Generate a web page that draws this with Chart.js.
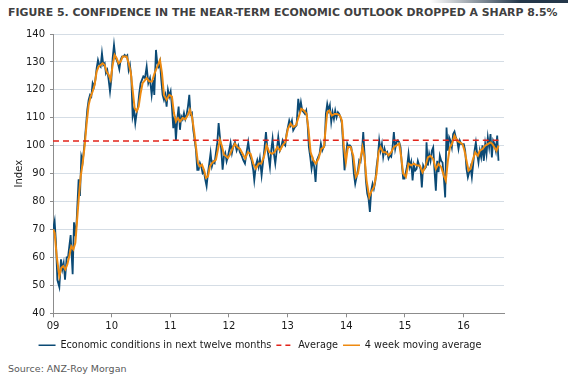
<!DOCTYPE html>
<html><head><meta charset="utf-8">
<script src="https://cdn.jsdelivr.net/npm/chart.js@4.4.1/dist/chart.umd.min.js"></script>
<style>
html,body{margin:0;padding:0;background:#fff;width:568px;height:375px;overflow:hidden;position:relative;font-family:"DejaVu Sans",Verdana,sans-serif;}
#topbar{position:absolute;left:430px;top:0;width:138px;height:3px;background:linear-gradient(to right,rgba(36,55,74,0),#24374a 65%);}
#title{position:absolute;left:8px;top:6px;font-weight:bold;font-size:11px;color:#404040;white-space:nowrap;line-height:13px;}
#source{position:absolute;left:8px;top:363px;font-size:9.5px;color:#595959;white-space:nowrap;line-height:12px;}
#chart{position:absolute;left:0;top:0;}
</style></head><body>
<div id="topbar"></div>
<div id="title"><span id="titletext">FIGURE 5. CONFIDENCE IN THE NEAR-TERM ECONOMIC OUTLOOK DROPPED A SHARP 8.5%</span></div>
<canvas id="chart" width="520" height="360"></canvas>
<div id="source">Source: ANZ-Roy Morgan</div>
<script>
// ---- data ----
const seriesLabels = ['Economic conditions in next twelve months', 'Average', '4 week moving average'];
const xTickYears = [2009, 2010, 2011, 2012, 2013, 2014, 2015, 2016];
const xTickLabels = ['09', '10', '11', '12', '13', '14', '15', '16'];

const econDates = [2009.000,2009.028,2009.051,2009.074,2009.108,2009.136,2009.159,2009.182,2009.205,2009.233,2009.256,2009.278,2009.301,2009.335,2009.358,2009.381,2009.403,2009.437,2009.460,2009.483,2009.506,2009.534,2009.557,2009.585,2009.608,2009.631,2009.653,2009.676,2009.699,2009.722,2009.744,2009.767,2009.790,2009.812,2009.835,2009.858,2009.881,2009.903,2009.926,2009.949,2009.972,2009.994,2010.017,2010.040,2010.062,2010.085,2010.108,2010.131,2010.153,2010.176,2010.199,2010.222,2010.244,2010.267,2010.290,2010.312,2010.335,2010.358,2010.381,2010.403,2010.426,2010.449,2010.471,2010.494,2010.517,2010.540,2010.568,2010.597,2010.625,2010.653,2010.682,2010.710,2010.727,2010.756,2010.778,2010.801,2010.824,2010.846,2010.869,2010.892,2010.915,2010.937,2010.960,2010.983,2011.006,2011.028,2011.051,2011.074,2011.096,2011.119,2011.142,2011.165,2011.187,2011.210,2011.233,2011.256,2011.278,2011.301,2011.324,2011.346,2011.369,2011.392,2011.415,2011.437,2011.460,2011.483,2011.506,2011.528,2011.551,2011.574,2011.596,2011.619,2011.642,2011.665,2011.687,2011.710,2011.733,2011.756,2011.778,2011.801,2011.824,2011.846,2011.869,2011.892,2011.915,2011.937,2011.960,2011.983,2012.006,2012.028,2012.051,2012.074,2012.102,2012.131,2012.159,2012.187,2012.216,2012.244,2012.273,2012.301,2012.329,2012.358,2012.386,2012.415,2012.432,2012.460,2012.483,2012.506,2012.528,2012.557,2012.585,2012.608,2012.631,2012.653,2012.676,2012.699,2012.721,2012.744,2012.767,2012.790,2012.812,2012.841,2012.869,2012.892,2012.915,2012.937,2012.960,2012.983,2013.006,2013.028,2013.051,2013.074,2013.096,2013.125,2013.153,2013.182,2013.204,2013.227,2013.250,2013.273,2013.295,2013.318,2013.341,2013.363,2013.386,2013.409,2013.432,2013.454,2013.477,2013.500,2013.523,2013.545,2013.568,2013.591,2013.613,2013.630,2013.653,2013.676,2013.699,2013.721,2013.744,2013.767,2013.790,2013.812,2013.835,2013.858,2013.880,2013.903,2013.926,2013.949,2013.971,2013.994,2014.017,2014.040,2014.062,2014.085,2014.108,2014.130,2014.153,2014.176,2014.199,2014.221,2014.244,2014.267,2014.290,2014.312,2014.335,2014.358,2014.380,2014.403,2014.426,2014.449,2014.471,2014.494,2014.517,2014.539,2014.562,2014.585,2014.608,2014.630,2014.653,2014.676,2014.699,2014.721,2014.744,2014.767,2014.790,2014.812,2014.835,2014.858,2014.880,2014.903,2014.926,2014.949,2014.971,2014.994,2015.017,2015.040,2015.062,2015.085,2015.108,2015.131,2015.153,2015.176,2015.199,2015.221,2015.244,2015.267,2015.289,2015.312,2015.335,2015.358,2015.369,2015.392,2015.414,2015.437,2015.460,2015.483,2015.505,2015.528,2015.551,2015.574,2015.596,2015.619,2015.642,2015.664,2015.687,2015.710,2015.733,2015.755,2015.778,2015.801,2015.823,2015.846,2015.869,2015.892,2015.914,2015.937,2015.960,2015.983,2016.005,2016.028,2016.051,2016.074,2016.096,2016.119,2016.142,2016.165,2016.187,2016.210,2016.233,2016.255,2016.278,2016.301,2016.323,2016.346,2016.369,2016.392,2016.414,2016.437,2016.460,2016.483,2016.505,2016.528,2016.551,2016.574,2016.596];
const econValues = [70,73,65.2,52,49.4,59.3,55.7,58,52,60,60,64,68,54,72.6,67.6,73,88,82,96.2,94.4,100,105.7,112.9,116.4,118.2,117.6,122.4,121.2,123.6,127.7,130.7,128.9,128.3,133.1,128.9,129.5,126,127.1,123.6,119.4,123.6,131.3,136.1,131.9,130.7,129.5,127.4,130.7,131.9,131.9,132.5,131.9,132.4,127.1,128.9,124.8,110.5,112.9,108.1,111.7,114,118.8,122.4,123.6,124.8,124.2,128.3,122.4,124.2,118.2,123.6,118.2,134.3,129.5,128.3,130.1,123.6,118.2,116.4,118.2,114,120,117.6,119.4,114,106.3,110.5,102.1,109.5,114,105.7,110.5,109.5,111.7,109.5,111.1,114,118.2,111.1,111.7,105.7,102.1,98.6,91.4,91.4,93.8,92.6,90.2,90.8,87.9,85.5,90.2,93.8,97.4,92.6,94.4,93.8,97.4,101,108.1,103.3,98.6,91.4,96.2,97.4,94.4,96.2,98.6,101,97.4,99.8,101.3,98.3,100.1,97.7,96.5,94.8,93.6,97.7,101.3,96.5,94.8,91.2,87.6,93,94.8,92.4,95.4,89.4,94.8,99.5,104.9,99.5,96,92.4,98.3,102.5,97.1,93.6,97.7,103.1,98.3,99.5,101.9,100.7,100.1,104.3,106.7,109,107.3,109,105.5,106.7,107.3,116.8,112.6,115.6,112.6,112,111.4,112.6,107.9,99.5,96,91.8,94.8,92.4,87,94.8,96,97.1,100.7,98.3,99.5,100,111.4,115,112.6,114.4,108.5,112,109.6,112.6,110.2,112,111.4,110.2,107.9,99.5,91.2,96,100.7,99.5,100.1,99.5,96,90,86.4,88.8,91.2,94.8,94.2,97.7,104.9,97.1,87.6,82.9,81.1,76.3,84,86.4,84.6,87,92.4,96,101.9,98.3,100.7,96,98.9,97.1,97.7,95.4,96.5,96,99.5,104.9,98.9,101.3,101.9,101.3,99.5,93,88.2,88.2,90.6,93,97.1,92.4,94.2,87.6,93,91.1,91.7,94.6,92.9,91.7,85.1,92.9,91.7,92.3,101.2,92.9,97,94.6,98.2,99.4,91.1,83.9,94.6,90.5,96.4,94.6,94,88.7,81.5,106.5,98.2,103,101.8,99.4,104.2,105.1,103,101.8,98.8,101.8,100.6,100.6,100.6,98.2,91.7,88.7,90.5,92.3,88.7,93.5,98.2,101.2,97,94,98.2,95.8,100.1,94.6,100.6,97,103,99.4,104.2,95.8,101.8,100.6,98.2,103.6,94.6];

const maDates = [2009.000,2009.028,2009.063,2009.108,2009.142,2009.176,2009.210,2009.244,2009.278,2009.312,2009.347,2009.381,2009.403,2009.437,2009.472,2009.506,2009.540,2009.574,2009.608,2009.642,2009.676,2009.710,2009.744,2009.778,2009.812,2009.847,2009.881,2009.915,2009.949,2009.983,2010.017,2010.051,2010.085,2010.119,2010.153,2010.188,2010.222,2010.256,2010.290,2010.324,2010.358,2010.392,2010.426,2010.460,2010.494,2010.528,2010.597,2010.642,2010.687,2010.733,2010.778,2010.824,2010.858,2010.892,2010.937,2010.983,2011.028,2011.062,2011.096,2011.131,2011.165,2011.210,2011.256,2011.301,2011.335,2011.369,2011.403,2011.437,2011.471,2011.506,2011.540,2011.574,2011.608,2011.642,2011.676,2011.710,2011.744,2011.778,2011.812,2011.846,2011.881,2011.915,2011.949,2011.983,2012.017,2012.051,2012.102,2012.142,2012.187,2012.233,2012.278,2012.324,2012.369,2012.415,2012.460,2012.506,2012.551,2012.596,2012.642,2012.687,2012.733,2012.778,2012.824,2012.869,2012.915,2012.960,2013.006,2013.051,2013.096,2013.142,2013.187,2013.233,2013.278,2013.324,2013.358,2013.392,2013.437,2013.483,2013.528,2013.574,2013.619,2013.676,2013.710,2013.755,2013.801,2013.846,2013.892,2013.926,2013.960,2013.994,2014.028,2014.074,2014.119,2014.164,2014.199,2014.233,2014.278,2014.312,2014.346,2014.392,2014.426,2014.471,2014.517,2014.551,2014.585,2014.630,2014.676,2014.721,2014.767,2014.812,2014.858,2014.903,2014.937,2014.971,2015.017,2015.062,2015.108,2015.153,2015.210,2015.255,2015.301,2015.346,2015.392,2015.437,2015.483,2015.528,2015.574,2015.619,2015.664,2015.698,2015.733,2015.767,2015.801,2015.846,2015.892,2015.937,2015.983,2016.017,2016.051,2016.085,2016.119,2016.153,2016.199,2016.244,2016.278,2016.323,2016.369,2016.414,2016.460,2016.494,2016.528,2016.562,2016.596];
const maValues = [70,68.8,60.5,53.3,56.3,56.9,55.7,57.5,60.5,64,62.9,65.2,71.2,80.7,89,93.8,100,108.1,114.6,117.6,119.4,121.8,126.5,128.3,128.9,129.5,128.9,126.5,125.4,123.6,128.9,132.5,131.3,129.5,130.1,131.9,131.9,131.9,129.5,126.5,120,113.5,112.3,114,118.8,122.4,124.2,123,123,126,128.3,130.7,126,118.2,116.4,118.2,117.6,111.7,108.7,109.9,108.7,109.9,109.5,111.1,112.9,110.5,105.7,99.8,93.8,92.6,93.2,91.4,88.5,89,92.6,93.8,94.4,95,98.6,102.1,99.8,96.8,96.2,95.6,96.8,98.6,100.7,99.5,98.9,97.1,95.4,97.7,97.1,93.6,91.8,93.6,93.6,96,100.1,97.7,97.1,97.7,99.5,98.3,100.1,101.3,106.1,107.9,106.7,107.3,110.2,113.2,112.6,111.4,105.5,97.7,94.8,93.6,95.4,98.9,99.5,112,112.6,110.8,111.4,111.4,110.8,109,99.5,94.2,99.5,99.5,96.5,88.8,90,94.2,99.5,96,87.6,81.7,83.5,85.2,90,97.7,99.5,97.7,97.7,96.5,97.7,99.5,100.1,100.7,96,90,88.8,93.6,93,93.6,92.9,92.9,90.5,92.3,95.8,96.4,95.2,91.7,93.5,92.3,89.3,87.5,94.6,99.4,100.6,103.6,101.8,101.2,100.6,98.2,94.6,91.1,91.7,94.6,97.6,96.4,98.2,98.8,100,100.6,101.2,100.6,99.4,98.2,100];

const avgDates = [2009.000, 2010.840, 2010.870, 2016.596];
const avgValues = [101.7, 101.7, 102.0, 102.0];

const yMin = 40, yMax = 140, yStep = 10;
const xMin = 2009, xMax = 2016.69;

// ---- build ----
const pts = (xs, ys) => xs.map((x, i) => ({x: x, y: ys[i]}));

// fit title width
(function(){
  const t = document.getElementById('titletext');
  const w = t.getBoundingClientRect().width;
  const target = 550;
  document.getElementById('title').style.fontSize = (11 * target / w).toFixed(2) + 'px';
})();

const FONT = 'DejaVu Sans';
new Chart(document.getElementById('chart'), {
  type: 'line',
  data: {
    datasets: [
      {label: seriesLabels[0], data: pts(econDates, econValues), borderColor: '#0B4A75', backgroundColor: '#0B4A75', borderWidth: 1.8, pointRadius: 0, tension: 0, order: 2},
      {label: seriesLabels[1], data: pts(avgDates, avgValues), borderColor: '#E2231A', backgroundColor: '#E2231A', borderWidth: 1.5, borderDash: [6, 4], pointRadius: 0, tension: 0, order: 0},
      {label: seriesLabels[2], data: pts(maDates, maValues), borderColor: '#EE8A10', backgroundColor: '#EE8A10', borderWidth: 2, pointRadius: 0, tension: 0, order: 1}
    ]
  },
  options: {
    responsive: false,
    animation: false,
    devicePixelRatio: 1,
    layout: {padding: {left: 16, right: 16, top: 34, bottom: 0}},
    plugins: {
      tooltip: {enabled: false},
      legend: {
        position: 'bottom',
        labels: {
          usePointStyle: true, pointStyle: 'line', pointStyleWidth: 17, boxHeight: 10,
          padding: 5, color: '#1a1a1a', font: {family: FONT, size: 9.7},
          sort: (a, b) => a.datasetIndex - b.datasetIndex,
          generateLabels: chart => {
            const items = Chart.defaults.plugins.legend.labels.generateLabels(chart);
            items.forEach(it => {
              const ds = chart.data.datasets[it.datasetIndex];
              it.lineDash = ds.borderDash ? [5, 4] : [];
              it.lineWidth = 1.5;
              it.strokeStyle = ds.borderColor;
              it.fillStyle = ds.borderColor;
            });
            return items;
          }
        }
      }
    },
    scales: {
      x: {
        type: 'linear', min: xMin, max: xMax,
        afterBuildTicks: s => { s.ticks = xTickYears.map(v => ({value: v})); },
        ticks: {
          callback: v => xTickLabels[Math.round(v - xTickYears[0])],
          color: '#1a1a1a', font: {family: FONT, size: 10}, padding: 3, maxRotation: 0, autoSkip: false
        },
        grid: {drawOnChartArea: false, drawTicks: true, tickLength: 4, color: '#8c8c8c'},
        border: {color: '#8c8c8c', width: 1}
      },
      y: {
        min: yMin, max: yMax,
        ticks: {stepSize: yStep, color: '#1a1a1a', font: {family: FONT, size: 10}, padding: 5},
        grid: {color: '#d5dde5', tickColor: '#8c8c8c', tickLength: 3},
        border: {color: '#8c8c8c', width: 1},
        title: {display: true, text: 'Index', color: '#1a1a1a', font: {family: FONT, size: 10}, padding: {top: -3, bottom: 0}},
        afterFit: s => { s.width = 37; }
      }
    }
  }
});
</script>
</body></html>
